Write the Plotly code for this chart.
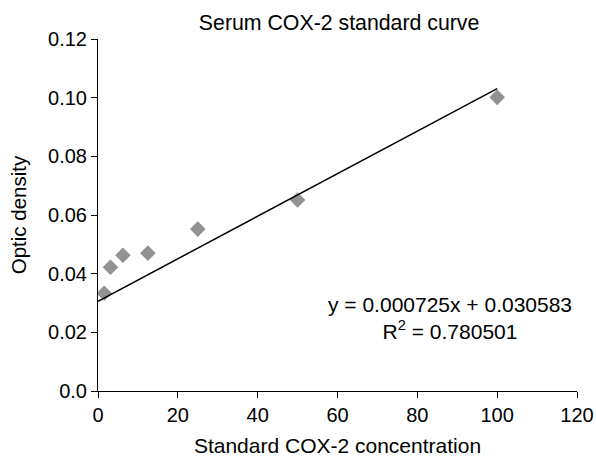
import plotly.graph_objects as go

conc = [1.5625, 3.125, 6.25, 12.5, 25, 50, 100]
od = [0.0333, 0.0422, 0.0463, 0.0470, 0.0552, 0.0651, 0.1001]
slope = 0.000725
intercept = 0.030583
fit_x = [0, 100]
fit_y = [intercept + slope * v for v in fit_x]

y_ticks = [0.0, 0.02, 0.04, 0.06, 0.08, 0.10, 0.12]
y_ticklabels = ["0.0", "0.02", "0.04", "0.06", "0.08", "0.10", "0.12"]
x_ticks = [0, 20, 40, 60, 80, 100, 120]

font = "Liberation Sans, Arial, sans-serif"

fig = go.Figure()
fig.add_trace(go.Scatter(x=conc, y=od, mode="markers",
                         marker=dict(symbol="diamond", size=12, color="#929292"),
                         showlegend=False, cliponaxis=False))
fig.add_trace(go.Scatter(x=fit_x, y=fit_y, mode="lines",
                         line=dict(color="black", width=1.5), showlegend=False))

fig.add_annotation(x=0.735, y=0.207, xref="paper", yref="paper",
                   xanchor="center", yanchor="middle",
                   text="y = 0.000725x + 0.030583<br>R<sup>2</sup> = 0.780501",
                   showarrow=False, align="center",
                   font=dict(size=21, color="black", family=font))

fig.update_layout(
    width=596, height=457,
    margin=dict(l=98, r=19, t=39, b=66),
    paper_bgcolor="white", plot_bgcolor="white",
    font=dict(family=font, color="black", size=20),
    title=dict(text="Serum COX-2 standard curve", x=0.569, xanchor="center",
               y=0.950, yanchor="middle", font=dict(size=21.3)),
    xaxis=dict(range=[0, 120], tickvals=x_ticks, showgrid=False, zeroline=False,
               showline=True, linecolor="black", linewidth=1,
               ticks="outside", ticklen=6, tickcolor="black", automargin=False,
               tickfont=dict(size=20),
               title=dict(text="Standard COX-2 concentration",
                          font=dict(size=21))),
    yaxis=dict(range=[0, 0.12], tickvals=y_ticks, ticktext=y_ticklabels,
               showgrid=False, zeroline=False,
               showline=True, linecolor="black", linewidth=1,
               ticks="outside", ticklen=6, tickcolor="black", automargin=False,
               tickfont=dict(size=20),
               title=dict(text="Optic density", font=dict(size=20.5))),
)

fig.write_html("out.html", config={"displayModeBar": False},
               post_script="document.body.style.margin='0';document.body.style.overflow='hidden';")
